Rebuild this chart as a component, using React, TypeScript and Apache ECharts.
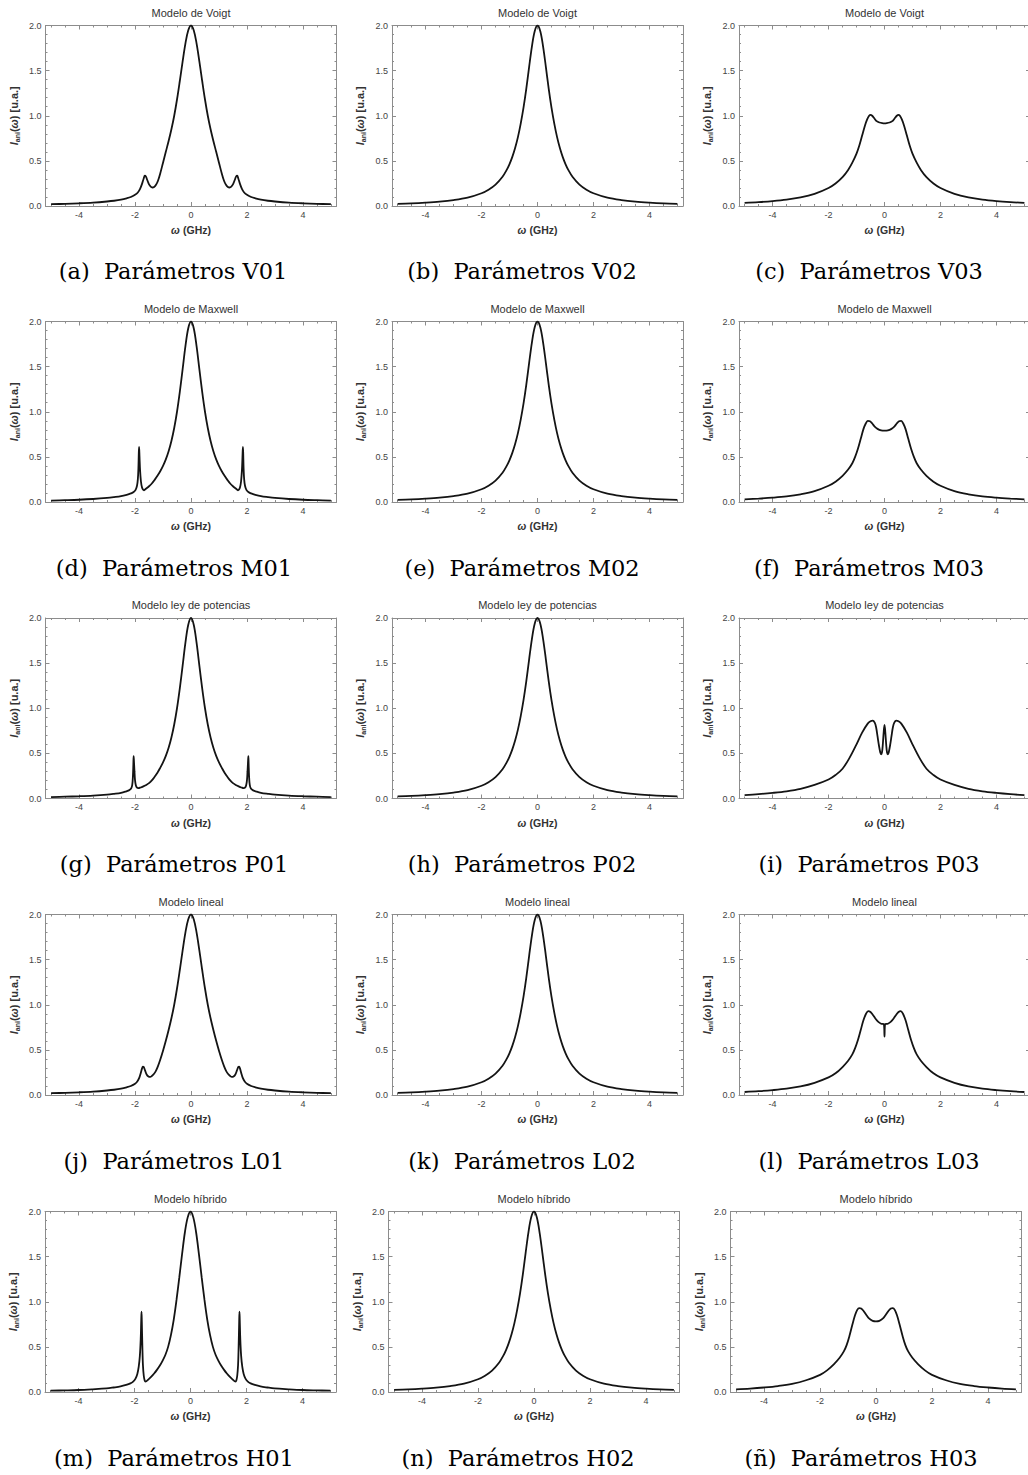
import React, { useEffect, useRef } from "react";
import * as echarts from "echarts";

type Pt = [number, number];

// Anisotropic intensity curves, ω in GHz, intensity in u.a.
const V01: Pt[] = [
  [-5, 0.02], [-4.5, 0.024], [-4, 0.03], [-3.5, 0.038], [-3, 0.05], [-2.75, 0.058], [-2.5, 0.07], [-2.3, 0.085],
  [-2.15, 0.1], [-2, 0.125], [-1.9, 0.15], [-1.82, 0.19], [-1.75, 0.245], [-1.69, 0.305], [-1.65, 0.335], [-1.61, 0.325],
  [-1.56, 0.285], [-1.5, 0.24], [-1.44, 0.215], [-1.38, 0.205], [-1.32, 0.21], [-1.25, 0.235], [-1.18, 0.28], [-1.1, 0.36],
  [-1, 0.48], [-0.9, 0.6], [-0.8, 0.72], [-0.7, 0.85], [-0.6, 1.0], [-0.5, 1.18], [-0.4, 1.385], [-0.3, 1.6],
  [-0.2, 1.8], [-0.1, 1.945], [0, 2],
  [0.1, 1.945], [0.2, 1.8], [0.3, 1.6], [0.4, 1.385], [0.5, 1.18], [0.6, 1.0], [0.7, 0.85], [0.8, 0.72],
  [0.9, 0.6], [1, 0.48], [1.1, 0.36], [1.18, 0.28], [1.25, 0.235], [1.32, 0.21], [1.38, 0.205], [1.44, 0.215],
  [1.5, 0.24], [1.56, 0.285], [1.61, 0.325], [1.65, 0.335], [1.69, 0.305], [1.75, 0.245], [1.82, 0.19], [1.9, 0.15],
  [2, 0.125], [2.15, 0.1], [2.3, 0.085], [2.5, 0.07], [2.75, 0.058], [3, 0.05], [3.5, 0.038], [4, 0.03],
  [4.5, 0.024], [5, 0.02],
];

const V02: Pt[] = [
  [-5, 0.024], [-4.5, 0.029], [-4, 0.037], [-3.5, 0.048], [-3, 0.065], [-2.5, 0.092], [-2, 0.141], [-1.75, 0.18],
  [-1.5, 0.237], [-1.25, 0.324], [-1.1, 0.4], [-1, 0.464], [-0.9, 0.544], [-0.8, 0.642], [-0.7, 0.763], [-0.6, 0.913],
  [-0.5, 1.09], [-0.4, 1.3], [-0.3, 1.54], [-0.2, 1.767], [-0.1, 1.936], [0, 2],
  [0.1, 1.936], [0.2, 1.767], [0.3, 1.54], [0.4, 1.3], [0.5, 1.09], [0.6, 0.913], [0.7, 0.763], [0.8, 0.642],
  [0.9, 0.544], [1, 0.464], [1.1, 0.4], [1.25, 0.324], [1.5, 0.237], [1.75, 0.18], [2, 0.141], [2.5, 0.092],
  [3, 0.065], [3.5, 0.048], [4, 0.037], [4.5, 0.029], [5, 0.024],
];

const V03: Pt[] = [
  [-5, 0.035], [-4.5, 0.043], [-4, 0.054], [-3.5, 0.07], [-3, 0.095], [-2.5, 0.135], [-2, 0.2], [-1.75, 0.25],
  [-1.5, 0.32], [-1.3, 0.4], [-1.15, 0.48], [-1, 0.58], [-0.9, 0.67], [-0.8, 0.78], [-0.7, 0.89], [-0.62, 0.96],
  [-0.55, 1.0], [-0.5, 1.01], [-0.44, 1.0], [-0.36, 0.97], [-0.28, 0.94], [-0.18, 0.925], [-0.08, 0.918], [0, 0.916],
  [0.08, 0.918], [0.18, 0.925], [0.28, 0.94], [0.36, 0.97], [0.44, 1.0], [0.5, 1.01], [0.55, 1.0], [0.62, 0.96],
  [0.7, 0.89], [0.8, 0.78], [0.9, 0.67], [1, 0.58], [1.15, 0.48], [1.3, 0.4], [1.5, 0.32], [1.75, 0.25],
  [2, 0.2], [2.5, 0.135], [3, 0.095], [3.5, 0.07], [4, 0.054], [4.5, 0.043], [5, 0.035],
];

const M01: Pt[] = [
  [-5, 0.016], [-4.5, 0.02], [-4, 0.025], [-3.5, 0.033], [-3, 0.045], [-2.75, 0.054], [-2.5, 0.065], [-2.3, 0.08],
  [-2.15, 0.095], [-2.05, 0.11], [-1.98, 0.135], [-1.93, 0.18], [-1.9, 0.25], [-1.88, 0.37], [-1.865, 0.55], [-1.855, 0.61],
  [-1.84, 0.5], [-1.82, 0.35], [-1.79, 0.23], [-1.75, 0.16], [-1.71, 0.135], [-1.68, 0.13], [-1.6, 0.15], [-1.5, 0.175],
  [-1.4, 0.205], [-1.3, 0.245], [-1.2, 0.29], [-1.1, 0.34], [-1, 0.4], [-0.9, 0.472], [-0.8, 0.562], [-0.7, 0.676],
  [-0.6, 0.82], [-0.5, 1.0], [-0.4, 1.22], [-0.3, 1.47], [-0.2, 1.724], [-0.1, 1.923], [0, 2],
  [0.1, 1.923], [0.2, 1.724], [0.3, 1.47], [0.4, 1.22], [0.5, 1.0], [0.6, 0.82], [0.7, 0.676], [0.8, 0.562],
  [0.9, 0.472], [1, 0.4], [1.1, 0.34], [1.2, 0.29], [1.3, 0.245], [1.4, 0.205], [1.5, 0.175], [1.6, 0.15],
  [1.68, 0.13], [1.71, 0.135], [1.75, 0.16], [1.79, 0.23], [1.82, 0.35], [1.84, 0.5], [1.855, 0.61], [1.865, 0.55],
  [1.88, 0.37], [1.9, 0.25], [1.93, 0.18], [1.98, 0.135], [2.05, 0.11], [2.15, 0.095], [2.3, 0.08], [2.5, 0.065],
  [2.75, 0.054], [3, 0.045], [3.5, 0.033], [4, 0.025], [4.5, 0.02], [5, 0.016],
];

const M02: Pt[] = [
  [-5, 0.024], [-4.5, 0.029], [-4, 0.037], [-3.5, 0.048], [-3, 0.065], [-2.5, 0.092], [-2, 0.141], [-1.75, 0.18],
  [-1.5, 0.237], [-1.25, 0.324], [-1.1, 0.4], [-1, 0.464], [-0.9, 0.544], [-0.8, 0.642], [-0.7, 0.763], [-0.6, 0.913],
  [-0.5, 1.09], [-0.4, 1.3], [-0.3, 1.54], [-0.2, 1.767], [-0.1, 1.936], [0, 2],
  [0.1, 1.936], [0.2, 1.767], [0.3, 1.54], [0.4, 1.3], [0.5, 1.09], [0.6, 0.913], [0.7, 0.763], [0.8, 0.642],
  [0.9, 0.544], [1, 0.464], [1.1, 0.4], [1.25, 0.324], [1.5, 0.237], [1.75, 0.18], [2, 0.141], [2.5, 0.092],
  [3, 0.065], [3.5, 0.048], [4, 0.037], [4.5, 0.029], [5, 0.024],
];

const M03: Pt[] = [
  [-5, 0.03], [-4.5, 0.038], [-4, 0.048], [-3.5, 0.062], [-3, 0.085], [-2.5, 0.12], [-2, 0.18], [-1.75, 0.225],
  [-1.5, 0.29], [-1.3, 0.36], [-1.15, 0.43], [-1.05, 0.5], [-0.95, 0.59], [-0.85, 0.7], [-0.75, 0.81], [-0.67, 0.87],
  [-0.6, 0.9], [-0.52, 0.895], [-0.44, 0.87], [-0.35, 0.835], [-0.25, 0.81], [-0.12, 0.793], [0, 0.79],
  [0.12, 0.793], [0.25, 0.81], [0.35, 0.835], [0.44, 0.87], [0.52, 0.895], [0.6, 0.9], [0.67, 0.87], [0.75, 0.81],
  [0.85, 0.7], [0.95, 0.59], [1.05, 0.5], [1.15, 0.43], [1.3, 0.36], [1.5, 0.29], [1.75, 0.225], [2, 0.18],
  [2.5, 0.12], [3, 0.085], [3.5, 0.062], [4, 0.048], [4.5, 0.038], [5, 0.03],
];

const P01: Pt[] = [
  [-5, 0.016], [-4.5, 0.02], [-4, 0.025], [-3.5, 0.032], [-3, 0.043], [-2.75, 0.052], [-2.5, 0.063], [-2.35, 0.075],
  [-2.22, 0.09], [-2.14, 0.11], [-2.1, 0.15], [-2.075, 0.25], [-2.06, 0.38], [-2.05, 0.47], [-2.04, 0.42], [-2.02, 0.3],
  [-2, 0.2], [-1.97, 0.145], [-1.93, 0.12], [-1.88, 0.115], [-1.8, 0.122], [-1.7, 0.135], [-1.6, 0.15], [-1.5, 0.17],
  [-1.4, 0.2], [-1.3, 0.24], [-1.2, 0.285], [-1.1, 0.34], [-1, 0.4], [-0.9, 0.472], [-0.8, 0.562], [-0.7, 0.676],
  [-0.6, 0.82], [-0.5, 1.0], [-0.4, 1.22], [-0.3, 1.47], [-0.2, 1.724], [-0.1, 1.923], [0, 2],
  [0.1, 1.923], [0.2, 1.724], [0.3, 1.47], [0.4, 1.22], [0.5, 1.0], [0.6, 0.82], [0.7, 0.676], [0.8, 0.562],
  [0.9, 0.472], [1, 0.4], [1.1, 0.34], [1.2, 0.285], [1.3, 0.24], [1.4, 0.2], [1.5, 0.17], [1.6, 0.15],
  [1.7, 0.135], [1.8, 0.122], [1.88, 0.115], [1.93, 0.12], [1.97, 0.145], [2, 0.2], [2.02, 0.3], [2.04, 0.42],
  [2.05, 0.47], [2.06, 0.38], [2.075, 0.25], [2.1, 0.15], [2.14, 0.11], [2.22, 0.09], [2.35, 0.075], [2.5, 0.063],
  [2.75, 0.052], [3, 0.043], [3.5, 0.032], [4, 0.025], [4.5, 0.02], [5, 0.016],
];

const P02: Pt[] = [
  [-5, 0.024], [-4.5, 0.029], [-4, 0.037], [-3.5, 0.048], [-3, 0.065], [-2.5, 0.092], [-2, 0.141], [-1.75, 0.18],
  [-1.5, 0.237], [-1.25, 0.324], [-1.1, 0.4], [-1, 0.464], [-0.9, 0.544], [-0.8, 0.642], [-0.7, 0.763], [-0.6, 0.913],
  [-0.5, 1.09], [-0.4, 1.3], [-0.3, 1.54], [-0.2, 1.767], [-0.1, 1.936], [0, 2],
  [0.1, 1.936], [0.2, 1.767], [0.3, 1.54], [0.4, 1.3], [0.5, 1.09], [0.6, 0.913], [0.7, 0.763], [0.8, 0.642],
  [0.9, 0.544], [1, 0.464], [1.1, 0.4], [1.25, 0.324], [1.5, 0.237], [1.75, 0.18], [2, 0.141], [2.5, 0.092],
  [3, 0.065], [3.5, 0.048], [4, 0.037], [4.5, 0.029], [5, 0.024],
];

const P03: Pt[] = [
  [-5, 0.037], [-4.5, 0.048], [-4, 0.062], [-3.5, 0.08], [-3, 0.107], [-2.5, 0.15], [-2, 0.21], [-1.75, 0.26],
  [-1.5, 0.33], [-1.25, 0.45], [-1, 0.6], [-0.8, 0.73], [-0.6, 0.83], [-0.5, 0.855], [-0.42, 0.862], [-0.35, 0.84],
  [-0.3, 0.79], [-0.25, 0.69], [-0.2, 0.59], [-0.15, 0.51], [-0.12, 0.49], [-0.09, 0.51], [-0.06, 0.6], [-0.03, 0.73],
  [0, 0.815],
  [0.03, 0.73], [0.06, 0.6], [0.09, 0.51], [0.12, 0.49], [0.15, 0.51], [0.2, 0.59], [0.25, 0.69], [0.3, 0.79],
  [0.35, 0.84], [0.42, 0.862], [0.5, 0.855], [0.6, 0.83], [0.8, 0.73], [1, 0.6], [1.25, 0.45], [1.5, 0.33],
  [1.75, 0.26], [2, 0.21], [2.5, 0.15], [3, 0.107], [3.5, 0.08], [4, 0.062], [4.5, 0.048], [5, 0.037],
];

const L01: Pt[] = [
  [-5, 0.02], [-4.5, 0.024], [-4, 0.03], [-3.5, 0.038], [-3, 0.05], [-2.75, 0.058], [-2.5, 0.07], [-2.3, 0.085],
  [-2.15, 0.1], [-2, 0.125], [-1.92, 0.15], [-1.85, 0.19], [-1.79, 0.25], [-1.75, 0.295], [-1.72, 0.315], [-1.69, 0.31],
  [-1.64, 0.27], [-1.58, 0.225], [-1.52, 0.205], [-1.46, 0.2], [-1.4, 0.21], [-1.32, 0.235], [-1.25, 0.27], [-1.18, 0.32],
  [-1.1, 0.39], [-1, 0.49], [-0.9, 0.6], [-0.8, 0.72], [-0.7, 0.85], [-0.6, 1.0], [-0.5, 1.18], [-0.4, 1.385],
  [-0.3, 1.6], [-0.2, 1.8], [-0.1, 1.945], [0, 2],
  [0.1, 1.945], [0.2, 1.8], [0.3, 1.6], [0.4, 1.385], [0.5, 1.18], [0.6, 1.0], [0.7, 0.85], [0.8, 0.72],
  [0.9, 0.6], [1, 0.49], [1.1, 0.39], [1.18, 0.32], [1.25, 0.27], [1.32, 0.235], [1.4, 0.21], [1.46, 0.2],
  [1.52, 0.205], [1.58, 0.225], [1.64, 0.27], [1.69, 0.31], [1.72, 0.315], [1.75, 0.295], [1.79, 0.25], [1.85, 0.19],
  [1.92, 0.15], [2, 0.125], [2.15, 0.1], [2.3, 0.085], [2.5, 0.07], [2.75, 0.058], [3, 0.05], [3.5, 0.038],
  [4, 0.03], [4.5, 0.024], [5, 0.02],
];

const L02: Pt[] = [
  [-5, 0.024], [-4.5, 0.029], [-4, 0.037], [-3.5, 0.048], [-3, 0.065], [-2.5, 0.092], [-2, 0.141], [-1.75, 0.18],
  [-1.5, 0.237], [-1.25, 0.324], [-1.1, 0.4], [-1, 0.464], [-0.9, 0.544], [-0.8, 0.642], [-0.7, 0.763], [-0.6, 0.913],
  [-0.5, 1.09], [-0.4, 1.3], [-0.3, 1.54], [-0.2, 1.767], [-0.1, 1.936], [0, 2],
  [0.1, 1.936], [0.2, 1.767], [0.3, 1.54], [0.4, 1.3], [0.5, 1.09], [0.6, 0.913], [0.7, 0.763], [0.8, 0.642],
  [0.9, 0.544], [1, 0.464], [1.1, 0.4], [1.25, 0.324], [1.5, 0.237], [1.75, 0.18], [2, 0.141], [2.5, 0.092],
  [3, 0.065], [3.5, 0.048], [4, 0.037], [4.5, 0.029], [5, 0.024],
];

const L03: Pt[] = [
  [-5, 0.033], [-4.5, 0.042], [-4, 0.054], [-3.5, 0.07], [-3, 0.095], [-2.5, 0.135], [-2, 0.195], [-1.75, 0.24],
  [-1.5, 0.31], [-1.3, 0.38], [-1.15, 0.45], [-1.05, 0.52], [-0.95, 0.61], [-0.85, 0.72], [-0.75, 0.83], [-0.66, 0.9],
  [-0.58, 0.93], [-0.5, 0.92], [-0.42, 0.89], [-0.32, 0.845], [-0.22, 0.81], [-0.12, 0.79], [-0.02, 0.782],
  [0, 0.646],
  [0.02, 0.782], [0.12, 0.79], [0.22, 0.81], [0.32, 0.845], [0.42, 0.89], [0.5, 0.92], [0.58, 0.93], [0.66, 0.9],
  [0.75, 0.83], [0.85, 0.72], [0.95, 0.61], [1.05, 0.52], [1.15, 0.45], [1.3, 0.38], [1.5, 0.31], [1.75, 0.24],
  [2, 0.195], [2.5, 0.135], [3, 0.095], [3.5, 0.07], [4, 0.054], [4.5, 0.042], [5, 0.033],
];

const H01: Pt[] = [
  [-5, 0.015], [-4.5, 0.018], [-4, 0.022], [-3.5, 0.03], [-3, 0.04], [-2.75, 0.05], [-2.5, 0.062], [-2.3, 0.078],
  [-2.15, 0.095], [-2.05, 0.115], [-1.97, 0.145], [-1.9, 0.2], [-1.85, 0.28], [-1.81, 0.4], [-1.78, 0.58], [-1.76, 0.8],
  [-1.75, 0.89], [-1.74, 0.78], [-1.72, 0.5], [-1.7, 0.3], [-1.67, 0.18], [-1.64, 0.13], [-1.61, 0.115], [-1.5, 0.14],
  [-1.4, 0.17], [-1.3, 0.205], [-1.2, 0.245], [-1.1, 0.29], [-1, 0.345], [-0.9, 0.41], [-0.8, 0.5], [-0.7, 0.63],
  [-0.6, 0.8], [-0.5, 1.02], [-0.4, 1.27], [-0.3, 1.53], [-0.2, 1.77], [-0.1, 1.935], [0, 2],
  [0.1, 1.935], [0.2, 1.77], [0.3, 1.53], [0.4, 1.27], [0.5, 1.02], [0.6, 0.8], [0.7, 0.63], [0.8, 0.5],
  [0.9, 0.41], [1, 0.345], [1.1, 0.29], [1.2, 0.245], [1.3, 0.205], [1.4, 0.17], [1.5, 0.14], [1.61, 0.115],
  [1.64, 0.13], [1.67, 0.18], [1.7, 0.3], [1.72, 0.5], [1.74, 0.78], [1.75, 0.89], [1.76, 0.8], [1.78, 0.58],
  [1.81, 0.4], [1.85, 0.28], [1.9, 0.2], [1.97, 0.145], [2.05, 0.115], [2.15, 0.095], [2.3, 0.078], [2.5, 0.062],
  [2.75, 0.05], [3, 0.04], [3.5, 0.03], [4, 0.022], [4.5, 0.018], [5, 0.015],
];

const H02: Pt[] = [
  [-5, 0.024], [-4.5, 0.029], [-4, 0.037], [-3.5, 0.048], [-3, 0.065], [-2.5, 0.092], [-2, 0.141], [-1.75, 0.18],
  [-1.5, 0.237], [-1.25, 0.324], [-1.1, 0.4], [-1, 0.464], [-0.9, 0.544], [-0.8, 0.642], [-0.7, 0.763], [-0.6, 0.913],
  [-0.5, 1.09], [-0.4, 1.3], [-0.3, 1.54], [-0.2, 1.767], [-0.1, 1.936], [0, 2],
  [0.1, 1.936], [0.2, 1.767], [0.3, 1.54], [0.4, 1.3], [0.5, 1.09], [0.6, 0.913], [0.7, 0.763], [0.8, 0.642],
  [0.9, 0.544], [1, 0.464], [1.1, 0.4], [1.25, 0.324], [1.5, 0.237], [1.75, 0.18], [2, 0.141], [2.5, 0.092],
  [3, 0.065], [3.5, 0.048], [4, 0.037], [4.5, 0.029], [5, 0.024],
];

const H03: Pt[] = [
  [-5, 0.03], [-4.5, 0.038], [-4, 0.05], [-3.5, 0.066], [-3, 0.09], [-2.5, 0.13], [-2, 0.19], [-1.75, 0.24],
  [-1.5, 0.31], [-1.3, 0.38], [-1.15, 0.45], [-1.05, 0.52], [-0.95, 0.62], [-0.85, 0.74], [-0.75, 0.85], [-0.67, 0.91],
  [-0.6, 0.93], [-0.53, 0.925], [-0.45, 0.9], [-0.35, 0.855], [-0.25, 0.815], [-0.12, 0.788], [0, 0.782],
  [0.12, 0.788], [0.25, 0.815], [0.35, 0.855], [0.45, 0.9], [0.53, 0.925], [0.6, 0.93], [0.67, 0.91], [0.75, 0.85],
  [0.85, 0.74], [0.95, 0.62], [1.05, 0.52], [1.15, 0.45], [1.3, 0.38], [1.5, 0.31], [1.75, 0.24], [2, 0.19],
  [2.5, 0.13], [3, 0.09], [3.5, 0.066], [4, 0.05], [4.5, 0.038], [5, 0.03],
];

const curves: Pt[][] = [V01, V02, V03, M01, M02, M03, P01, P02, P03, L01, L02, L03, H01, H02, H03];
const modelTitles = ["Modelo de Voigt", "Modelo de Maxwell", "Modelo ley de potencias", "Modelo lineal", "Modelo híbrido"];
const letters = ["a", "b", "c", "d", "e", "f", "g", "h", "i", "j", "k", "l", "m", "n", "ñ"];
const paramCodes = ["V01", "V02", "V03", "M01", "M02", "M03", "P01", "P02", "P03", "L01", "L02", "L03", "H01", "H02", "H03"];

// Axis ticks
const xMajor = [-4, -2, 0, 2, 4];
const xMinor = [-5, -4.5, -3.5, -3, -2.5, -1.5, -1, -0.5, 0.5, 1, 1.5, 2.5, 3, 3.5, 4.5, 5];
const yMajor = [0, 0.5, 1, 1.5, 2];
const yMinor = [0.1, 0.2, 0.3, 0.4, 0.6, 0.7, 0.8, 0.9, 1.1, 1.2, 1.3, 1.4, 1.6, 1.7, 1.8, 1.9];

// Panel geometry
const rowTop = [25.5, 321.5, 618, 914.5, 1211.5];
const colLeft = [
  [45.5, 392, 739],
  [45.5, 392, 739],
  [45.5, 392, 739],
  [45.5, 392, 739],
  [45, 388.5, 730.5],
];
const plotW = 291;
const plotH = 180.5;
const captionY = [271, 567.5, 864, 1160.5, 1457.5];
const captionX = [
  [173, 522, 869],
  [174, 522, 869],
  [174, 522, 869],
  [174, 522, 869],
  [174, 518, 861],
];

const SANS = '"Liberation Sans", Arial, sans-serif';
const SERIF = '"DejaVu Serif", serif';
const FRAME = "#8c8c8c";
const LABEL = "#444444";
const NAME = "#333333";

function buildOption() {
  const grid: any[] = [];
  const xAxis: any[] = [];
  const yAxis: any[] = [];
  const series: any[] = [];
  const graphic: any[] = [];

  const tickStyle = { color: FRAME, width: 1 };
  const hiddenLine = { show: false, onZero: false };
  const frameLine = { show: true, onZero: false, lineStyle: { color: FRAME, width: 1 } };

  curves.forEach((data, i) => {
    const row = Math.floor(i / 3);
    const col = i % 3;
    const left = colLeft[row][col];
    const top = rowTop[row];
    grid.push({ left, top, width: plotW, height: plotH, containLabel: false, outerBoundsMode: "none", show: false });

    const xBase = { type: "value", gridIndex: i, min: -5.2, max: 5.2, splitLine: { show: false }, silent: true };
    xAxis.push({
      ...xBase,
      position: "bottom",
      axisLine: frameLine,
      axisTick: { show: true, inside: true, length: 4, customValues: xMajor, lineStyle: tickStyle },
      axisLabel: { show: true, customValues: xMajor, margin: 4, fontSize: 9, color: LABEL, fontFamily: SANS },
      name: "{w|ω} {n|(GHz)}",
      nameLocation: "middle",
      nameGap: 18,
      nameMoveOverlap: false,
      nameTextStyle: {
        color: NAME,
        fontFamily: SANS,
        rich: {
          w: { fontStyle: "italic", fontWeight: "bold", fontSize: 10.5, fontFamily: SANS, color: NAME },
          n: { fontWeight: "bold", fontSize: 10.5, fontFamily: SANS, color: NAME },
        },
      },
    });
    xAxis.push({
      ...xBase,
      position: "bottom",
      axisLine: hiddenLine,
      axisTick: { show: true, inside: true, length: 2, customValues: xMinor, lineStyle: tickStyle },
      axisLabel: { show: false },
    });
    xAxis.push({
      ...xBase,
      position: "top",
      axisLine: frameLine,
      axisTick: { show: true, inside: true, length: 4, customValues: xMajor, lineStyle: tickStyle },
      axisLabel: { show: false },
    });
    xAxis.push({
      ...xBase,
      position: "top",
      axisLine: hiddenLine,
      axisTick: { show: true, inside: true, length: 2, customValues: xMinor, lineStyle: tickStyle },
      axisLabel: { show: false },
    });

    const yBase = { type: "value", gridIndex: i, min: 0, max: 2, splitLine: { show: false }, silent: true };
    yAxis.push({
      ...yBase,
      position: "left",
      axisLine: frameLine,
      axisTick: { show: true, inside: true, length: 4, customValues: yMajor, lineStyle: tickStyle },
      axisLabel: {
        show: true,
        customValues: yMajor,
        margin: 4,
        fontSize: 9,
        color: LABEL,
        fontFamily: SANS,
        formatter: (v: number) => v.toFixed(1),
      },
      name: "{i|I}{s|ani}{n|(}{w|ω}{n|) [u.a.]}",
      nameLocation: "middle",
      nameRotate: 90,
      nameGap: 25,
      nameMoveOverlap: false,
      nameTextStyle: {
        color: NAME,
        fontFamily: SANS,
        rich: {
          i: { fontStyle: "italic", fontWeight: "bold", fontSize: 11, lineHeight: 14, fontFamily: SANS, color: NAME },
          s: { fontWeight: "bold", fontSize: 7, lineHeight: 7, verticalAlign: "bottom", fontFamily: SANS, color: NAME },
          n: { fontWeight: "bold", fontSize: 11, lineHeight: 14, fontFamily: SANS, color: NAME },
          w: { fontStyle: "italic", fontWeight: "bold", fontSize: 11, lineHeight: 14, fontFamily: SANS, color: NAME },
        },
      },
    });
    yAxis.push({
      ...yBase,
      position: "left",
      axisLine: hiddenLine,
      axisTick: { show: true, inside: true, length: 2, customValues: yMinor, lineStyle: tickStyle },
      axisLabel: { show: false },
    });
    yAxis.push({
      ...yBase,
      position: "right",
      axisLine: frameLine,
      axisTick: { show: true, inside: true, length: 4, customValues: yMajor, lineStyle: tickStyle },
      axisLabel: { show: false },
    });
    yAxis.push({
      ...yBase,
      position: "right",
      axisLine: hiddenLine,
      axisTick: { show: true, inside: true, length: 2, customValues: yMinor, lineStyle: tickStyle },
      axisLabel: { show: false },
    });

    series.push({
      type: "line",
      xAxisIndex: 4 * i,
      yAxisIndex: 4 * i,
      data,
      showSymbol: false,
      symbol: "none",
      smooth: 0.35,
      clip: true,
      silent: true,
      lineStyle: { color: "#141414", width: 1.8 },
    });

    graphic.push({
      type: "text",
      x: left + plotW / 2,
      y: top - 13,
      silent: true,
      style: {
        text: modelTitles[row],
        font: `11px ${SANS}`,
        fill: NAME,
        align: "center",
        verticalAlign: "middle",
        textAlign: "center",
        textVerticalAlign: "middle",
      },
    });
    graphic.push({
      type: "text",
      x: captionX[row][col],
      y: captionY[row],
      silent: true,
      style: {
        text: `(${letters[i]})  Parámetros ${paramCodes[i]}`,
        font: `22.5px ${SERIF}`,
        fill: "#000000",
        align: "center",
        verticalAlign: "middle",
        textAlign: "center",
        textVerticalAlign: "middle",
      },
    });
  });

  return {
    animation: false,
    backgroundColor: "#ffffff",
    grid,
    xAxis,
    yAxis,
    series,
    graphic,
  };
}

export default function App() {
  const ref = useRef<HTMLDivElement>(null);
  useEffect(() => {
    if (!ref.current) return;
    const chart = echarts.init(ref.current, null, { renderer: "svg" });
    chart.setOption(buildOption() as any);
    return () => {
      chart.dispose();
    };
  }, []);
  return (
    <div
      ref={ref}
      style={{ position: "absolute", left: 0, top: 0, width: 1028, height: 1475, background: "#ffffff" }}
    />
  );
}
